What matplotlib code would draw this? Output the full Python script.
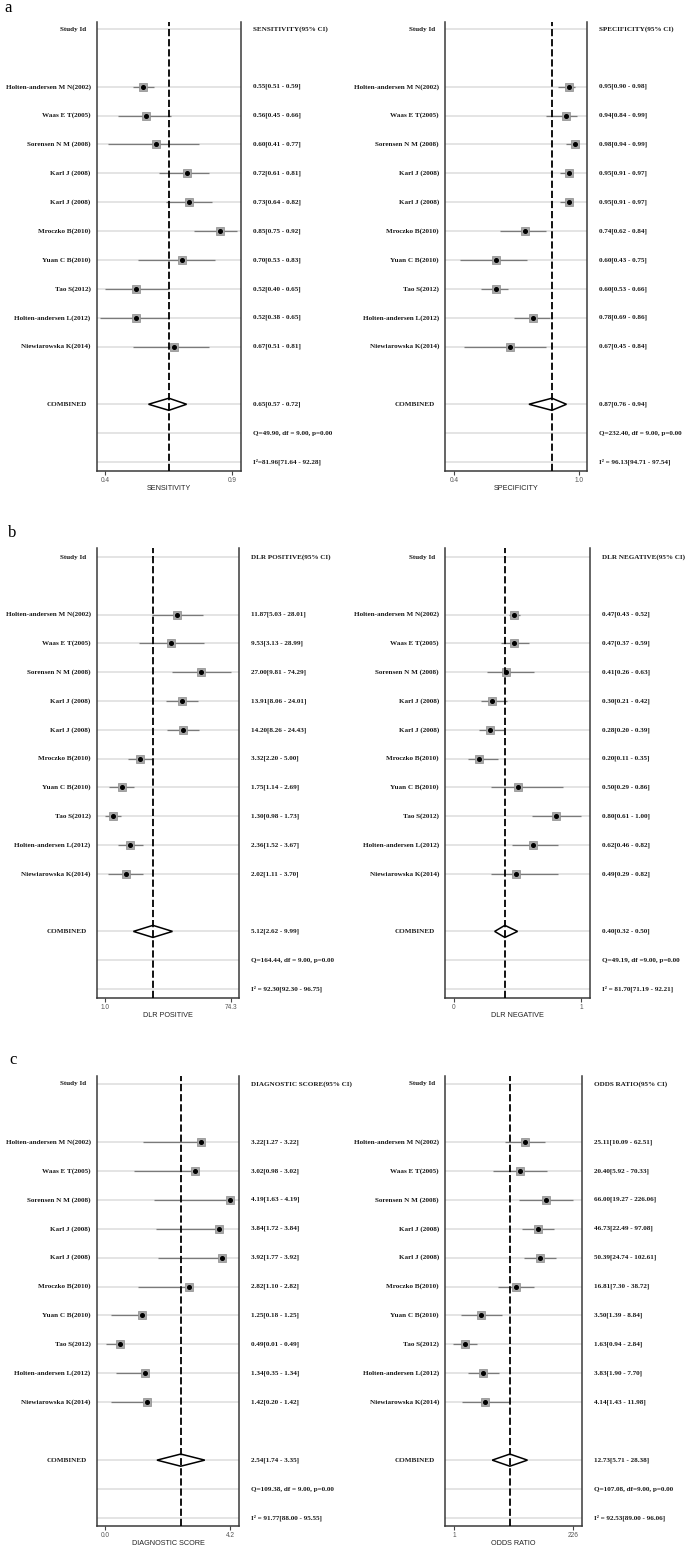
import numpy as np
import matplotlib
matplotlib.use("Agg")
import matplotlib.pyplot as plt
from matplotlib.ticker import NullLocator

# figure size in pixels
W, H = 688, 1552
DPI = 100

SERIF = "Liberation Serif"
SANS = "Liberation Sans"

studies = ["Holten-andersen M N(2002)", "Waas E T(2005)", "Sorensen N M (2008)",
           "Karl J (2008)", "Karl J (2008)", "Mroczko B(2010)", "Yuan C B(2010)",
           "Tao S(2012)", "Holten-andersen L(2012)", "Niewiarowska K(2014)"]

# sensitivity
sens_est = [0.55, 0.56, 0.60, 0.72, 0.73, 0.85, 0.70, 0.52, 0.52, 0.67]
sens_lo = [0.51, 0.45, 0.41, 0.61, 0.64, 0.75, 0.53, 0.40, 0.38, 0.51]
sens_hi = [0.59, 0.66, 0.77, 0.81, 0.82, 0.92, 0.83, 0.65, 0.65, 0.81]
sens_pool = [0.65, 0.57, 0.72]

# specificity
spec_est = [0.95, 0.94, 0.98, 0.95, 0.95, 0.74, 0.60, 0.60, 0.78, 0.67]
spec_lo = [0.90, 0.84, 0.94, 0.91, 0.91, 0.62, 0.43, 0.53, 0.69, 0.45]
spec_hi = [0.98, 0.99, 0.99, 0.97, 0.97, 0.84, 0.75, 0.66, 0.86, 0.84]
spec_pool = [0.87, 0.76, 0.94]

# positive likelihood ratio
dlrp_est = [11.87, 9.53, 27.00, 13.91, 14.20, 3.32, 1.75, 1.30, 2.36, 2.02]
dlrp_lo = [5.03, 3.13, 9.81, 8.06, 8.26, 2.20, 1.14, 0.98, 1.52, 1.11]
dlrp_hi = [28.01, 28.99, 74.29, 24.01, 24.43, 5.00, 2.69, 1.73, 3.67, 3.70]
dlrp_pool = [5.12, 2.62, 9.99]

# negative likelihood ratio
dlrn_est = [0.47, 0.47, 0.41, 0.30, 0.28, 0.20, 0.50, 0.80, 0.62, 0.49]
dlrn_lo = [0.43, 0.37, 0.26, 0.21, 0.20, 0.11, 0.29, 0.61, 0.46, 0.29]
dlrn_hi = [0.52, 0.59, 0.63, 0.42, 0.39, 0.35, 0.86, 1.00, 0.82, 0.82]
dlrn_pool = [0.40, 0.32, 0.50]

# diagnostic score
dsc_est = [3.22, 3.02, 4.19, 3.84, 3.92, 2.82, 1.25, 0.49, 1.34, 1.42]
dsc_lo = [1.27, 0.98, 1.63, 1.72, 1.77, 1.10, 0.18, 0.01, 0.35, 0.20]
dsc_hi = [3.22, 3.02, 4.19, 3.84, 3.92, 2.82, 1.25, 0.49, 1.34, 1.42]
dsc_pool = [2.54, 1.74, 3.35]

# diagnostic odds ratio
or_est = [25.11, 20.40, 66.00, 46.73, 50.39, 16.81, 3.50, 1.63, 3.83, 4.14]
or_lo = [10.09, 5.92, 19.27, 22.49, 24.74, 7.30, 1.39, 0.94, 1.90, 1.43]
or_hi = [62.51, 70.33, 226.06, 97.08, 102.61, 38.72, 8.84, 2.84, 7.70, 11.98]
or_pool = [12.73, 5.71, 28.38]


def px_axes(fig, left, right, top, bottom):
    return fig.add_axes([left / W, 1 - bottom / H, (right - left) / W, (bottom - top) / H])


def txt(ax, s, row, side, off):
    # text outside the axes, placed on a row
    x = 0 if side == "left" else 1
    ax.annotate(s, xy=(x, row), xycoords=("axes fraction", "data"),
                xytext=(off, 0), textcoords="offset pixels",
                ha="right" if side == "left" else "left", va="center",
                fontsize=5.1, family=SERIF, weight="bold", color="#1a1a1a",
                annotation_clip=False)


def forest(fig, box, est, lo, hi, pool, header, q_text, i_text, xlabel,
           ticks, ticklabels, xlim, log=False):
    left, right, top, bottom, r0, r15 = box
    ax = px_axes(fig, left, right, top, bottom)
    pitch = (r15 - r0) / 15
    ax.set_ylim(15 + (bottom - r15) / pitch, -(r0 - top) / pitch)
    if log:
        ax.set_xscale("log")
    ax.set_xlim(xlim)

    rows = np.arange(2, 12)
    for r in [0, *rows, 13, 14, 15]:
        ax.axhline(r, color="#e2e2e2", lw=1.3, zorder=0)

    ax.hlines(rows, lo, hi, color="#7a7a7a", lw=0.9, zorder=2)
    ax.plot(est, rows, "s", ms=5.6, color="#a8a8a8", mec="#8a8a8a", mew=0.5, zorder=3)
    ax.plot(est, rows, "o", ms=2.6, color="black", zorder=4)

    p, plo, phi = pool
    dh = 0.21
    ax.fill([plo, p, phi, p], [13, 13 - dh, 13, 13 + dh], facecolor="white",
            edgecolor="black", lw=1.1, zorder=3)
    ax.axvline(p, color="black", ls=(0, (4, 1.6)), lw=1.3, zorder=5)

    ax.spines["top"].set_visible(False)
    for s in ["left", "right", "bottom"]:
        ax.spines[s].set_color("#3a3a3a")
        ax.spines[s].set_linewidth(1.1)
    ax.set_yticks([])
    ax.set_xticks(ticks, ticklabels)
    ax.xaxis.set_minor_locator(NullLocator())
    ax.tick_params(axis="x", length=3, width=0.8, color="#444444",
                   labelsize=4.7, labelcolor="#555555", pad=1.5)
    for lab in ax.get_xticklabels():
        lab.set_family(SANS)
    ax.set_xlabel(xlabel, fontsize=5.2, family=SANS, color="#222222", labelpad=0.5)

    txt(ax, "Study Id", 0, "left", -10)
    for r, name in zip(rows, studies):
        txt(ax, name, r, "left", -6)
    txt(ax, "COMBINED", 13, "left", -10)

    txt(ax, header, 0, "right", 12)
    for r, e, l, h in zip(rows, est, lo, hi):
        txt(ax, f"{e:.2f}[{l:.2f} - {h:.2f}]", r, "right", 12)
    txt(ax, f"{p:.2f}[{plo:.2f} - {phi:.2f}]", 13, "right", 12)
    txt(ax, q_text, 14, "right", 12)
    txt(ax, i_text, 15, "right", 12)
    return ax


fig = plt.figure(figsize=(W / DPI, H / DPI), dpi=DPI)
fig.patch.set_facecolor("white")

# panel a
forest(fig, (96.7, 240.7, 22, 471, 29, 462), sens_est, sens_lo, sens_hi, sens_pool,
       "SENSITIVITY(95% CI)", "Q=49.90, df = 9.00, p=0.00", "I\u00b2=81.96[71.64 - 92.28]",
       "SENSITIVITY", [0.4, 0.9], ["0.4", "0.9"], (0.366, 0.933))
forest(fig, (445, 587.3, 22, 471, 29, 462), spec_est, spec_lo, spec_hi, spec_pool,
       "SPECIFICITY(95% CI)", "Q=232.40, df = 9.00, p=0.00", "I\u00b2 = 96.13[94.71 - 97.54]",
       "SPECIFICITY", [0.4, 1.0], ["0.4", "1.0"], (0.357, 1.040))

# panel b
forest(fig, (96.7, 239.3, 548, 998, 557, 989), dlrp_est, dlrp_lo, dlrp_hi, dlrp_pool,
       "DLR POSITIVE(95% CI)", "Q=164.44, df = 9.00, p=0.00", "I\u00b2 = 92.30[92.30 - 96.75]",
       "DLR POSITIVE", [1.0, 74.3], ["1.0", "74.3"], (0.745, 98.7), log=True)
forest(fig, (445, 589.7, 548, 998, 557, 989), dlrn_est, dlrn_lo, dlrn_hi, dlrn_pool,
       "DLR NEGATIVE(95% CI)", "Q=49.19, df =9.00, p=0.00", "I\u00b2 = 81.70[71.19 - 92.21]",
       "DLR NEGATIVE", [0, 1], ["0", "1"], (-0.071, 1.068))

# panel c
forest(fig, (96.7, 239.3, 1076, 1526, 1084, 1518), dsc_est, dsc_lo, dsc_hi, dsc_pool,
       "DIAGNOSTIC SCORE(95% CI)", "Q=109.38, df = 9.00, p=0.00", "I\u00b2 = 91.77[88.00 - 95.55]",
       "DIAGNOSTIC SCORE", [0.0, 4.2], ["0.0", "4.2"], (-0.29, 4.513))
forest(fig, (445, 581.7, 1076, 1526, 1084, 1518), or_est, or_lo, or_hi, or_pool,
       "ODDS RATIO(95% CI)", "Q=107.08, df=9.00, p=0.00", "I\u00b2 = 92.53[89.00 - 96.06]",
       "ODDS RATIO", [1, 226], ["1", "226"], (0.664, 335.7), log=True)

for letter, x, y in [("a", 8.5, 8), ("b", 12, 533), ("c", 13.5, 1060)]:
    fig.text(x / W, 1 - y / H, letter, fontsize=12, family=SERIF, ha="center", va="center")

fig.savefig("out.png", dpi=DPI)
